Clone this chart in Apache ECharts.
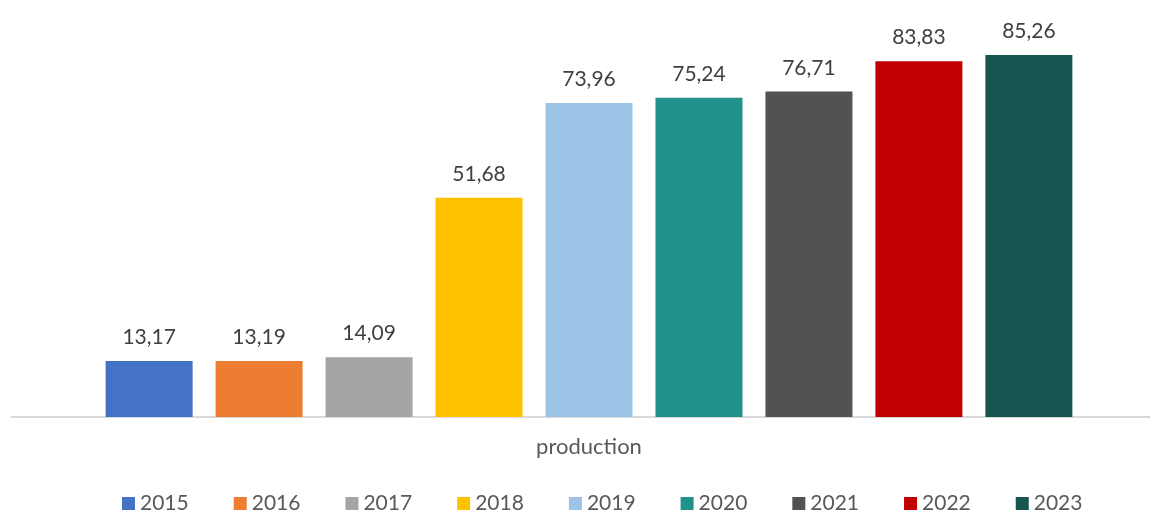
<!DOCTYPE html>
<html>
<head>
<meta charset="utf-8">
<script src="https://cdn.jsdelivr.net/npm/echarts@6/dist/echarts.min.js"></script>
<style>
html,body{margin:0;padding:0;background:#fff;}
#chart{width:1150px;height:510px;}
</style>
</head>
<body>
<div id="chart"></div>
<script>
const categories = ['production'];
const years = ['2015','2016','2017','2018','2019','2020','2021','2022','2023'];
const values = [13.17, 13.19, 14.09, 51.68, 73.96, 75.24, 76.71, 83.83, 85.26];
const colors = ['#4472C4','#ED7D31','#A5A5A5','#FFC000','#9DC3E6','#21918C','#525252','#C00000','#185652'];

const FONT = 'Lato, "Open Sans", sans-serif';
const chart = echarts.init(document.getElementById('chart'), null, {renderer:'canvas'});

const series = years.map((y, i) => ({
  name: y,
  type: 'bar',
  data: [values[i]],
  barWidth: 87,
  barGap: '26.4%',
  itemStyle: { color: colors[i] },
  label: {
    show: true,
    position: 'top',
    distance: 13,
    color: '#404040',
    fontFamily: FONT,
    fontSize: 21,
    formatter: p => p.value.toFixed(2).replace('.', ',')
  }
}));

chart.setOption({
  animation: false,
  textStyle: { fontFamily: FONT },
  grid: { left: 11, width: 1156, top: 35, height: 382, outerBoundsMode: 'none', containLabel: false },
  legend: {
    data: years,
    top: 488,
    left: 117,
    itemWidth: 13,
    itemHeight: 13,
    itemGap: 45,
    icon: 'rect',
    textStyle: { color: '#595959', fontSize: 21, fontFamily: FONT, padding: [0,0,0,0] }
  },
  xAxis: {
    type: 'category',
    data: categories,
    axisLine: { show: true, lineStyle: { color: '#D9D9D9', width: 2 } },
    axisTick: { show: false },
    axisLabel: { color: '#595959', fontSize: 22, fontFamily: FONT, margin: 19 }
  },
  yAxis: {
    type: 'value',
    min: 0,
    max: 90,
    interval: 10,
    show: false,
    splitLine: { show: false }
  },
  series: series
});
</script>
</body>
</html>
